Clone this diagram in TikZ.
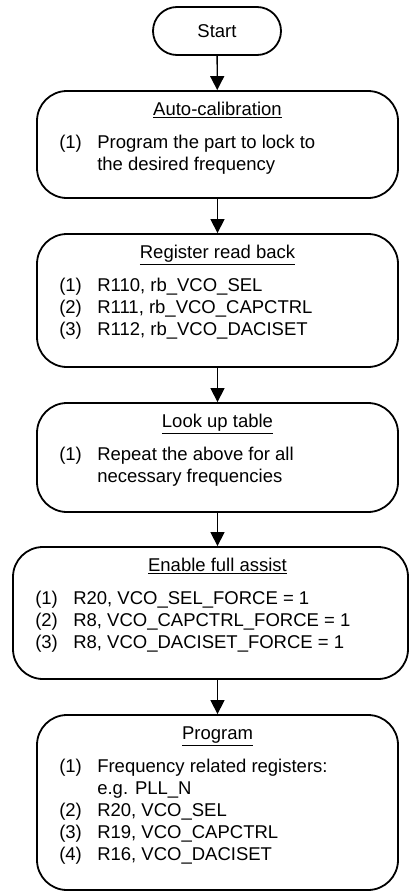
\documentclass[tikz,border=0pt]{standalone}
\usepackage{fontspec}
\setmainfont{Liberation Sans}
\usetikzlibrary{arrows.meta, positioning, calc}

\begin{document}
\begin{tikzpicture}[x=1pt, y=-1pt,
  every node/.style={font=\fontsize{18.5}{22}\selectfont},
  box/.style={draw, line width=1.8pt, rounded corners=30pt, inner sep=0pt},
  steptitle/.style={anchor=base},
  steplist/.style={anchor=base west, align=left, inner sep=0pt},
  flow/.style={line width=1.3pt, -{Triangle[width=14pt, length=14pt]}}]
  \useasboundingbox (0,0) rectangle (409,894);
  \clip (0,0) rectangle (409,894);
  \def\num#1{\makebox[38pt][l]{(#1)}}
  % Start
  \node[box, rounded corners=24pt, minimum width=128, minimum height=48] (start) at (217,31) {Start};
  % Auto-calibration (list base = last line)
  \node[box, minimum width=361, minimum height=107] (autocal) at (217.5,144.5) {};
  \node[steptitle] (autocalT) at ($(autocal.north)+(0,25.5)$) {\underline{Auto-calibration}};
  \node[steplist] (autocalL) at ($(autocal.north west)+(23,80.5)$)
    {\num{1}Program the part to lock to\\\hspace*{38pt}the desired frequency};
  % Register read back
  \node[box, minimum width=361, minimum height=133] (readback) at (217.5,300.5) {};
  \node[steptitle] (readbackT) at ($(readback.north)+(0,25.5)$) {\underline{Register read back}};
  \node[steplist] (readbackL) at ($(readback.north west)+(23,102.5)$)
    {\num{1}R110, rb\_VCO\_SEL\\\num{2}R111, rb\_VCO\_CAPCTRL\\\num{3}R112, rb\_VCO\_DACISET};
  % Look up table
  \node[box, minimum width=361, minimum height=109] (lookup) at (217.5,457.5) {};
  \node[steptitle] (lookupT) at ($(lookup.north)+(0,25.5)$) {\underline{Look up table}};
  \node[steplist] (lookupL) at ($(lookup.north west)+(23,80.5)$)
    {\num{1}Repeat the above for all\\\hspace*{38pt}necessary frequencies};
  % Enable full assist
  \node[box, minimum width=395, minimum height=132] (assist) at (210.5,613) {};
  \node[steptitle] (assistT) at ($(lookup.south |- assist.north)+(0,25.5)$) {\underline{Enable full assist}};
  \node[steplist] (assistL) at ($(assist.north west)+(23,102.5)$)
    {\num{1}R20, VCO\_SEL\_FORCE = 1\\\num{2}R8, VCO\_CAPCTRL\_FORCE = 1\\\num{3}R8, VCO\_DACISET\_FORCE = 1};
  % Program
  \node[box, minimum width=361, minimum height=175] (program) at (217.5,802.5) {};
  \node[steptitle] (programT) at ($(program.north)+(0,25.5)$) {\underline{Program}};
  \node[steplist] (programL) at ($(program.north west)+(23,146.5)$)
    {\num{1}Frequency related registers:\\\hspace*{38pt}e.g. PLL\_N\\\num{2}R20, VCO\_SEL\\\num{3}R19, VCO\_CAPCTRL\\\num{4}R16, VCO\_DACISET};
  % arrows
  \draw[flow] (start) -- (autocal);
  \draw[flow] (autocal) -- (readback);
  \draw[flow] (readback) -- (lookup);
  \draw[flow] (lookup) -- (lookup |- assist.north);
  \draw[flow] (assist.south -| program) -- (program);
\end{tikzpicture}
\end{document}
